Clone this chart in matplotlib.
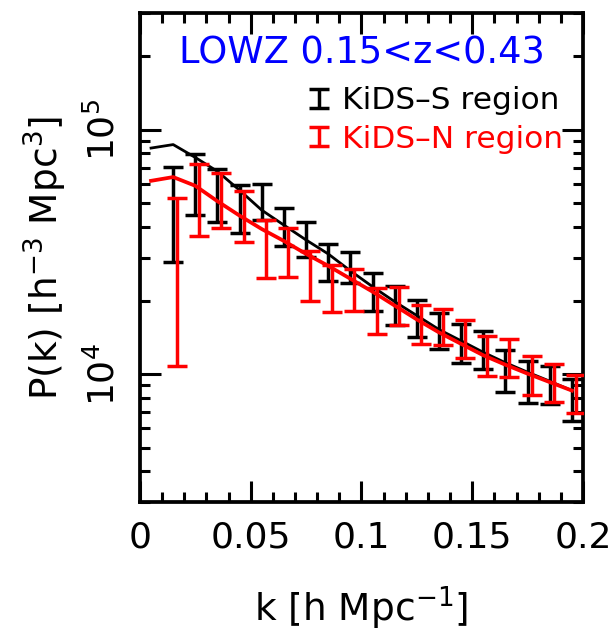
#!/usr/bin/env python3
import numpy as np
import matplotlib
matplotlib.use("Agg")
import matplotlib.pyplot as plt
from matplotlib.container import ErrorbarContainer
from matplotlib.legend_handler import HandlerErrorbar
from matplotlib.ticker import MultipleLocator, LogLocator, FixedFormatter, NullFormatter, FuncFormatter

plt.rcParams["font.family"] = ["DejaVu Sans"]
plt.rcParams["mathtext.fontset"] = "dejavusans"
plt.rcParams["mathtext.default"] = "regular"

# line curves (k bin centres)
k_line = [0.005, 0.015, 0.025, 0.035, 0.045, 0.055, 0.065, 0.075, 0.085, 0.095,
          0.105, 0.115, 0.125, 0.135, 0.145, 0.155, 0.165, 0.175, 0.185, 0.195]
pk_line_s = [84100, 86900, 76950, 67500, 56500, 46850, 40700, 35390, 31030, 26470,
             22800, 19800, 17370, 15230, 13690, 12290, 11140, 10190, 9360, 8570]
pk_line_n = [61770, 64000, 58940, 50960, 44500, 39220, 35050, 31030, 27740, 24560,
             21750, 19080, 16740, 14820, 13300, 11950, 10930, 10050, 9280, 8570]

# measured points with errors
k_data = [0.015, 0.025, 0.035, 0.045, 0.055, 0.065, 0.075, 0.085, 0.095, 0.105,
          0.115, 0.125, 0.135, 0.145, 0.155, 0.165, 0.175, 0.185, 0.195]
pk_s = [49570, 62185, 55610, 48450, 51430, 40750, 36135, 29015, 27655, 22070,
        19335, 17110, 15225, 13525, 12735, 10475, 9465, 9165, 8030]
err_s = [20700, 17465, 13600, 10780, 8750, 7300, 5875, 5065, 4055, 3980,
         3515, 2930, 2585, 2445, 2265, 2045, 1865, 1645, 1570]
pk_n = [31680, 54455, 52955, 45405, 33700, 32215, 26000, 22955, 22590, 18525,
        19230, 16245, 15810, 14135, 12060, 11800, 10040, 9375, 8405]
err_n = [20870, 17615, 13485, 10575, 8980, 7255, 6010, 4915, 4380, 3985,
         3410, 3005, 2690, 2445, 2250, 2080, 1830, 1655, 1495]

x_ticks = [0, 0.05, 0.1, 0.15, 0.2]
x_tick_labels = ["0", "0.05", "0.1", "0.15", "0.2"]

title = "LOWZ 0.15<z<0.43"
labels = ["KiDS\u2013S region", "KiDS\u2013N region"]

RED_SHIFT = 0.0018  # small horizontal offset of the red points


def main():
    fig = plt.figure(figsize=(6.15, 6.41), dpi=100)
    ax = fig.add_axes([0.2276, 0.2168, 0.7203, 0.7629])

    eb_s = ax.errorbar(k_data, pk_s, yerr=err_s, fmt="none", ecolor="black",
                       elinewidth=2.5, capsize=7.5, capthick=2.5, zorder=2)
    ax.plot(k_line, pk_line_s, color="black", lw=2.0, zorder=3)
    eb_n = ax.errorbar(np.array(k_data) + RED_SHIFT, pk_n, yerr=err_n, fmt="none",
                       ecolor="red", elinewidth=2.5, capsize=7.5, capthick=2.5, zorder=4)
    ax.plot(k_line, pk_line_n, color="red", lw=2.7, zorder=5)

    ax.set_yscale("log")
    ax.set_xlim(0, 0.2)
    ax.set_ylim(3000, 300000)

    ax.set_xticks(x_ticks)
    ax.xaxis.set_major_formatter(FixedFormatter(x_tick_labels))
    ax.xaxis.set_minor_locator(MultipleLocator(0.01))
    ax.yaxis.set_major_locator(LogLocator(base=10, numticks=10))
    ax.yaxis.set_minor_locator(LogLocator(base=10, subs=np.arange(2, 10), numticks=20))
    ax.yaxis.set_minor_formatter(NullFormatter())
    ax.yaxis.set_major_formatter(FuncFormatter(lambda v, p: r"$10^{%d}$" % round(np.log10(v))))

    ax.tick_params(which="both", direction="in", top=True, right=True, width=2.2)
    ax.tick_params(which="major", length=15, labelsize=26)
    ax.tick_params(which="minor", length=7.5)
    ax.tick_params(axis="x", which="major", pad=13)
    ax.tick_params(axis="y", which="major", pad=13)
    for lab in ax.get_yticklabels():
        lab.set_rotation(90)
        lab.set_va("center")
    for spine in ax.spines.values():
        spine.set_linewidth(2.7)

    ax.set_xlabel(r"k [h Mpc$^{-1}$]", fontsize=27, labelpad=22)
    ax.set_ylabel(r"P(k) [h$^{-3}$ Mpc$^{3}$]", fontsize=27, labelpad=12)

    ax.text(0.5, 0.918, title, transform=ax.transAxes, color="blue",
            fontsize=26.5, ha="center", va="center")

    leg = ax.legend([eb_s, eb_n], labels, loc="upper right", bbox_to_anchor=(0.955, 0.85),
                    frameon=False, fontsize=22.5, handlelength=0.8, handletextpad=0.35,
                    labelspacing=0.3, borderaxespad=0, borderpad=0,
                    handler_map={ErrorbarContainer: HandlerErrorbar(yerr_size=0.3)})
    for txt, c in zip(leg.get_texts(), ["black", "red"]):
        txt.set_color(c)

    fig.savefig("out.png", dpi=100)
    plt.close(fig)


if __name__ == "__main__":
    main()
